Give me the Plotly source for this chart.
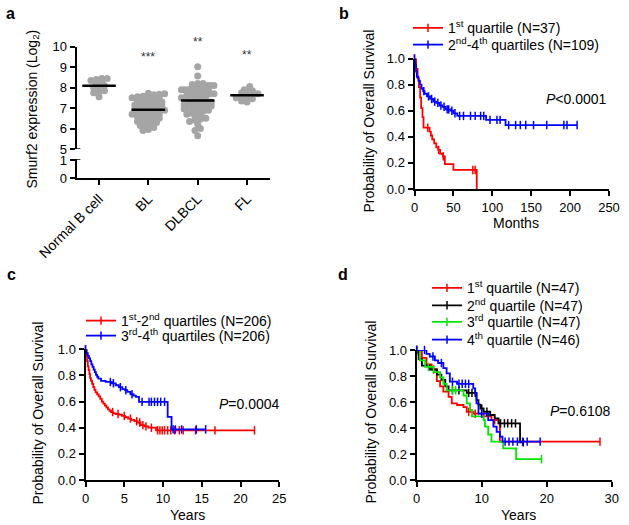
import numpy as np
import plotly.graph_objects as go

W, H = 629, 525
FONT = "Liberation Sans, Arial, Helvetica, sans-serif"

# ---------------- Panel a: Smurf2 expression (Log2) ----------------
groups = ["Normal B cell", "BL", "DLBCL", "FL"]
normal_b_vals = [8.45, 8.45, 8.4, 8.35, 8.25, 8.2, 8.1, 8.05, 8.0, 7.85, 7.8, 7.75, 7.55]
bl_vals = [7.72, 7.7, 7.68, 7.65, 7.6, 7.58, 7.55, 7.5, 7.48, 7.45,
           7.4, 7.38, 7.35, 7.3, 7.28, 7.25, 7.2, 7.18, 7.15, 7.1,
           7.08, 7.05, 7.0, 6.98, 6.95, 6.9, 6.88, 6.85, 6.8, 6.78,
           6.75, 6.7, 6.68, 6.65, 6.6, 6.58, 6.55, 6.5, 6.48, 6.45,
           6.4, 6.35, 6.3, 6.25, 6.2, 6.15, 6.05, 5.95, 5.9]
dlbcl_vals = [9.02, 8.57, 8.2, 8.2, 8.15, 8.1, 8.1, 8.1, 8.05, 8.0, 8.0, 8.0, 7.95,
              7.9, 7.9, 7.9, 7.85, 7.8, 7.8, 7.8, 7.75, 7.7, 7.7, 7.7, 7.65, 7.6,
              7.6, 7.55, 7.5, 7.5, 7.45, 7.4, 7.4, 7.35, 7.3, 7.3, 7.25, 7.2, 7.2,
              7.15, 7.1, 7.1, 7.05, 7.0, 7.0, 6.95, 6.9, 6.85, 6.8, 6.75, 6.7, 6.65,
              6.6, 6.5, 6.45, 6.4, 6.35, 6.2, 6.0, 5.9, 5.65]
fl_vals = [8.05, 7.9, 7.85, 7.8, 7.75, 7.7, 7.65, 7.6, 7.55, 7.5, 7.45, 7.4, 7.35, 7.3]
sig_groups = ["BL", "DLBCL", "FL"]
sig_text = ["***", "**", "**"]
sig_y = [9.5, 10.25, 9.6]
a_range_upper = [5, 10]
a_ticks_upper = [5, 6, 7, 8, 9, 10]
a_ticks_lower = [0, 1]

# ---------------- Panel b: months ----------------
b_q1_t = [0, 2, 4, 5.6, 7.3, 8.6, 10.3, 11.6, 19.3, 21, 22.8, 25.3, 28, 30.5, 33, 36.5, 39, 50, 80]
b_q1_s = [1.0, 0.92, 0.85, 0.78, 0.70, 0.62, 0.55, 0.47, 0.44, 0.41, 0.38, 0.35, 0.32, 0.30, 0.27, 0.25, 0.19, 0.146, 0.0]
b_q1_c = [0, 17, 31, 37, 75, 78]
b_q24_t = [0, 1, 2, 3, 5, 7, 9, 11, 13, 16, 20, 24, 28, 32, 36, 40, 46, 50, 55, 92, 117]
b_q24_s = [1.0, 0.95, 0.90, 0.86, 0.83, 0.80, 0.77, 0.75, 0.73, 0.71, 0.69, 0.67, 0.66, 0.64, 0.63, 0.61, 0.60, 0.58, 0.56, 0.53, 0.49]
b_q24_c = [0, 12, 18, 22, 26, 30, 34, 38, 42, 44, 48, 52, 58, 63, 72, 78, 85, 89, 97, 106, 110,
           121, 130, 136, 143, 153, 170, 192, 196, 209]

# ---------------- Panel c: years ----------------
c_q12_t = [0, 0.1, 0.2, 0.3, 0.4, 0.5, 0.6, 0.7, 0.85, 1.0, 1.15, 1.3, 1.5, 1.7, 1.9, 2.1, 2.3, 2.5,
           2.7, 2.9, 3.1, 3.3, 3.6, 3.9, 4.3, 4.7, 5.1, 5.5, 5.9, 6.3, 6.7, 7.1, 7.6, 8.1, 9.1]
c_q12_s = [1.0, 0.95, 0.91, 0.87, 0.84, 0.81, 0.78, 0.76, 0.735, 0.71, 0.69, 0.67, 0.655, 0.64, 0.62,
           0.60, 0.585, 0.57, 0.555, 0.54, 0.53, 0.52, 0.51, 0.505, 0.50, 0.49, 0.48, 0.47, 0.46, 0.45,
           0.44, 0.42, 0.41, 0.40, 0.38]
c_q12_c = [0, 3.5, 4.2, 5.0, 5.8, 6.6, 7.0, 7.4, 7.8, 8.5, 9.3, 9.6, 9.9, 10.2, 10.6, 11.0, 11.5,
           12.1, 12.6, 14.2, 16.7, 21.8]
c_q34_t = [0, 0.15, 0.3, 0.45, 0.6, 0.75, 0.9, 1.05, 1.2, 1.35, 1.5, 1.65, 2.0, 2.6, 3.4, 3.9, 4.3,
           4.75, 5.1, 5.4, 5.8, 6.2, 6.5, 6.9, 10.6, 11.1]
c_q34_s = [1.0, 0.97, 0.95, 0.93, 0.91, 0.885, 0.865, 0.845, 0.825, 0.805, 0.79, 0.776, 0.758, 0.75,
           0.74, 0.725, 0.71, 0.695, 0.687, 0.674, 0.656, 0.645, 0.636, 0.598, 0.483, 0.387]
c_q34_c = [0, 3.2, 3.6, 4.5, 5.2, 6.0, 7.3, 8.2, 8.5, 8.9, 9.3, 9.7, 10.2, 11.3, 11.6, 12.4, 14.3, 15.5]

# ---------------- Panel d: years ----------------
d_q1_t = [0, 0.8, 1.5, 2.3, 3.1, 3.6, 4.1, 4.9, 5.4, 6.2, 7.2, 7.7, 8.7, 10.3, 11.5, 12.6, 12.8]
d_q1_s = [1.0, 0.94, 0.89, 0.85, 0.76, 0.72, 0.68, 0.64, 0.59, 0.577, 0.56, 0.525, 0.51, 0.49, 0.46, 0.435, 0.295]
d_q1_c = [0, 2.6, 8.0, 9.0, 12.0, 28.2]
d_q2_t = [0, 0.3, 0.8, 2.0, 3.1, 3.8, 4.4, 4.9, 7.7, 9.2, 9.5, 9.8, 10.3, 11.3, 12.0, 12.6, 15.9]
d_q2_s = [1.0, 0.93, 0.88, 0.85, 0.81, 0.77, 0.72, 0.69, 0.67, 0.615, 0.58, 0.55, 0.525, 0.50, 0.474, 0.436, 0.29]
d_q2_c = [0, 5.5, 6.5, 8.0, 8.5, 9.0, 10.0, 10.8, 12.9, 13.5, 14.0, 14.6, 15.2, 16.4]
d_q3_t = [0, 0.5, 1.3, 2.6, 3.6, 4.1, 4.6, 7.2, 7.7, 8.2, 8.5, 10.3, 10.5, 11.0, 11.5, 13.3, 15.3]
d_q3_s = [1.0, 0.92, 0.87, 0.83, 0.79, 0.74, 0.69, 0.65, 0.59, 0.54, 0.49, 0.46, 0.41, 0.35, 0.295, 0.244, 0.16]
d_q3_c = [0, 1.8, 5.5, 6.0, 19.2]
d_q4_t = [0, 1.5, 2.0, 2.8, 3.3, 4.1, 4.6, 5.1, 6.2, 8.7, 9.0, 9.2, 9.5, 11.0, 11.8, 12.3, 12.8, 13.2]
d_q4_s = [1.0, 0.97, 0.95, 0.92, 0.90, 0.86, 0.82, 0.756, 0.74, 0.705, 0.667, 0.59, 0.51, 0.46, 0.41, 0.37, 0.333, 0.295]
d_q4_c = [0, 1.2, 2.5, 3.8, 5.5, 6.5, 7.0, 7.5, 8.0, 10.0, 13.6, 14.2, 14.8, 15.5, 16.3, 17.0, 19.0]

RED, BLUE, BLACK, GREEN = "#ff0000", "#0000ff", "#000000", "#00e600"


def px_x(p):
    return p / W


def px_y(p):
    return 1 - p / H


def swarm(vals, center, bin_w=0.2, step=0.11, half=0.33):
    v = np.sort(np.asarray(vals, float))
    bins = np.round(v / bin_w).astype(int)
    xs = np.empty_like(v)
    for b in np.unique(bins):
        m = bins == b
        n = int(m.sum())
        sp = min(step, 2 * half / (n - 1)) if n > 1 else 0.0
        order = np.arange(n)
        xs[m] = center + (order - (n - 1) / 2) * sp
    return xs, v


def km_points(t, s, cens):
    t = np.asarray(t, float)
    s = np.asarray(s, float)
    allt = np.union1d(t, np.asarray(cens, float))
    idx = np.searchsorted(t, allt, side="right") - 1
    ys = s[idx]
    flag = np.isin(allt, cens)
    return allt, ys, flag


fig = go.Figure()

# ---- panel a traces ----
group_vals = [normal_b_vals, bl_vals, dlbcl_vals, fl_vals]
for i, vals in enumerate(group_vals):
    xs, ys = swarm(vals, i)
    fig.add_trace(go.Scatter(x=xs, y=ys, mode="markers", xaxis="x", yaxis="y",
                             marker=dict(size=7, color="#a5a5a5"), showlegend=False,
                             hoverinfo="skip", cliponaxis=False))
for i, vals in enumerate(group_vals):
    m = float(np.mean(vals))
    fig.add_trace(go.Scatter(x=[i - 0.34, i + 0.34], y=[m, m], mode="lines", xaxis="x", yaxis="y",
                             line=dict(color="black", width=2.5), showlegend=False, hoverinfo="skip"))
fig.add_trace(go.Scatter(x=[], y=[], xaxis="x", yaxis="y2", showlegend=False))

# ---- KM traces ----
km_series = [
    (b_q1_t, b_q1_s, b_q1_c, RED, "1<sup>st</sup> quartile (N=37)", "x2", "y3", "legend", 408, 28.3),
    (b_q24_t, b_q24_s, b_q24_c, BLUE, "2<sup>nd</sup>-4<sup>th</sup> quartiles (N=109)", "x2", "y3", "legend2", 408, 45),
    (c_q12_t, c_q12_s, c_q12_c, RED, "1<sup>st</sup>-2<sup>nd</sup> quartiles (N=206)", "x3", "y4", "legend3", 81, 321),
    (c_q34_t, c_q34_s, c_q34_c, BLUE, "3<sup>rd</sup>-4<sup>th</sup> quartiles (N=206)", "x3", "y4", "legend4", 81, 336),
    (d_q1_t, d_q1_s, d_q1_c, RED, "1<sup>st</sup> quartile (N=47)", "x4", "y5", "legend5", 427, 288.3),
    (d_q2_t, d_q2_s, d_q2_c, BLACK, "2<sup>nd</sup> quartile (N=47)", "x4", "y5", "legend6", 427, 305.7),
    (d_q3_t, d_q3_s, d_q3_c, GREEN, "3<sup>rd</sup> quartile (N=47)", "x4", "y5", "legend7", 427, 322.3),
    (d_q4_t, d_q4_s, d_q4_c, BLUE, "4<sup>th</sup> quartile (N=46)", "x4", "y5", "legend8", 427, 340),
]

legend_layouts = {}
for (t, s, c, col, name, xa, ya, lg, lx, ly) in km_series:
    xx, yy, flag = km_points(t, s, c)
    mcols = [col if f else "rgba(0,0,0,0)" for f in flag]
    fig.add_trace(go.Scatter(
        x=xx, y=yy, mode="lines+markers", name=name, xaxis=xa, yaxis=ya, legend=lg,
        line=dict(shape="hv", color=col, width=1.8),
        marker=dict(symbol="line-ns-open", size=6, color=mcols, line=dict(width=1.5)),
        cliponaxis=False, hoverinfo="skip"))
    legend_layouts[lg] = dict(x=px_x(lx), y=px_y(ly), xanchor="left", yanchor="middle",
                              bgcolor="rgba(0,0,0,0)", borderwidth=0,
                              font=dict(family=FONT, size=14, color="black"))

axis_common = dict(showline=True, linewidth=2, linecolor="black", ticks="outside", ticklen=5,
                   tickwidth=1.5, tickcolor="black", showgrid=False, zeroline=False,
                   tickfont=dict(family=FONT, size=13, color="black"))

layout = dict(
    width=W, height=H, margin=dict(l=0, r=0, t=0, b=0),
    paper_bgcolor="white", plot_bgcolor="white", template="none",
    font=dict(family=FONT, size=14, color="black"),
    xaxis=dict(domain=[px_x(76.5), px_x(270)], range=[-0.457, 3.466], anchor="y2",
               tickvals=list(range(len(groups))), ticktext=groups, tickangle=-45,
               **{**axis_common, "tickfont": dict(family=FONT, size=14, color="black")}),
    yaxis=dict(domain=[px_y(149), px_y(46.7)], range=a_range_upper, anchor="x",
               tickvals=a_ticks_upper, **axis_common),
    yaxis2=dict(domain=[px_y(178.3), px_y(159.1)], range=[0, 1.05], anchor="x",
                tickvals=a_ticks_lower, **axis_common),
    xaxis2=dict(domain=[px_x(414.5), px_x(609)], range=[0, 250], anchor="y3", dtick=50, **axis_common),
    yaxis3=dict(domain=[px_y(189), px_y(58.5)], range=[0, 1], anchor="x2", dtick=0.2,
                tickformat=".1f", **axis_common),
    xaxis3=dict(domain=[px_x(85.5), px_x(279.3)], range=[0, 25], anchor="y4", dtick=5, **axis_common),
    yaxis4=dict(domain=[px_y(480), px_y(349.3)], range=[0, 1], anchor="x3", dtick=0.2,
                tickformat=".1f", **axis_common),
    xaxis4=dict(domain=[px_x(416.7), px_x(611.7)], range=[0, 30], anchor="y5", dtick=10, **axis_common),
    yaxis5=dict(domain=[px_y(480), px_y(350)], range=[0, 1], anchor="x4", dtick=0.2,
                tickformat=".1f", **axis_common),
)
layout.update(legend_layouts)
fig.update_layout(**layout)

# axis break marks on panel a
fig.add_shape(type="line", xref="x domain", yref="y", x0=0, x1=0.02, y0=5, y1=5,
              line=dict(color="black", width=1.5))
fig.add_shape(type="line", xref="x domain", yref="y2", x0=0, x1=0.02, y0=1.05, y1=1.05,
              line=dict(color="black", width=1.5))

ann = []

# significance stars (y given in data units, converted to the upper axis' domain fraction)
lo, hi = a_range_upper
for g, txt, yv in zip(sig_groups, sig_text, sig_y):
    ann.append(dict(text=txt, x=groups.index(g), y=(yv - lo) / (hi - lo), xref="x", yref="y domain",
                    showarrow=False, xanchor="center", yanchor="middle",
                    font=dict(family=FONT, size=12, color="#333333")))


def add_text(text, x, y, size=14, angle=0, bold=False, xanchor="center"):
    ann.append(dict(text=f"<b>{text}</b>" if bold else text, x=px_x(x), y=px_y(y), xref="paper",
                    yref="paper", showarrow=False, textangle=angle, xanchor=xanchor, yanchor="middle",
                    font=dict(family=FONT, size=size, color="black")))


add_text("a", 10, 13, size=16, bold=True)
add_text("b", 344, 13, size=16, bold=True)
add_text("c", 11, 274.5, size=16, bold=True)
add_text("d", 342.5, 274.5, size=16, bold=True)
add_text("Smurf2 expression (Log<sub>2</sub>)", 32, 109.5, angle=-90)
add_text("Probability of Overall Survival", 368.5, 121, angle=-90)
add_text("Months", 516, 223)
add_text("Probability of Overall Survival", 37.5, 413, angle=-90)
add_text("Years", 187, 515)
add_text("Probability of Overall Survival", 370.5, 412, angle=-90)
add_text("Years", 518, 515)
add_text("<i>P</i>&lt;0.0001", 576, 99)
add_text("<i>P</i>=0.0004", 249, 404)
add_text("<i>P</i>=0.6108", 580, 411)
fig.update_layout(annotations=ann)

fig.write_html("out.html", config={"displayModeBar": False},
               post_script="document.body.style.margin='0px';document.body.style.padding='0px';")
